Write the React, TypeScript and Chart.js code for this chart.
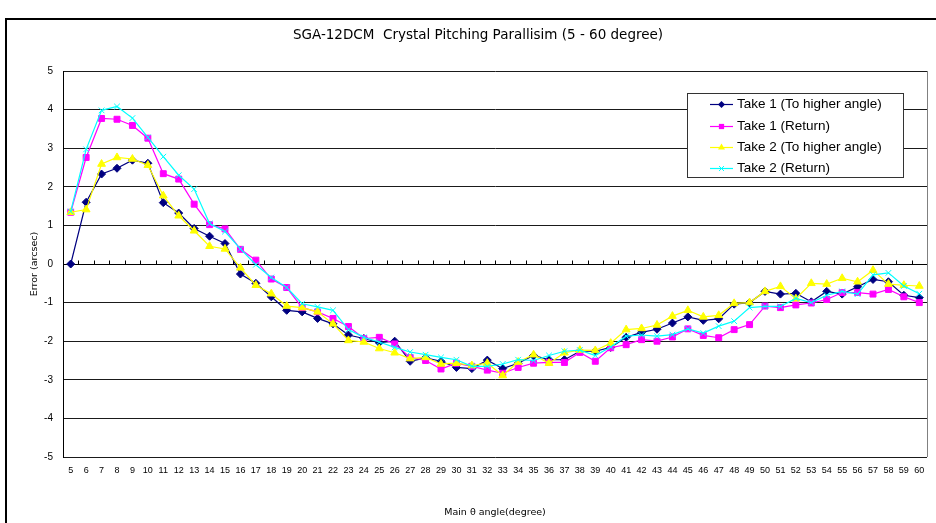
import React, { useEffect, useRef } from "react";
import { Chart, registerables } from "chart.js";

Chart.register(...registerables);

const angles: string[] = [];
for (let a = 5; a <= 60; a++) angles.push(String(a));

const take1Up = [0, 1.60, 2.33, 2.48, 2.69, 2.61, 1.59, 1.32, 0.92, 0.72, 0.53, -0.26, -0.50, -0.85, -1.20, -1.24, -1.41, -1.55, -1.84, -1.93, -2.04, -2.00, -2.52, -2.43, -2.52, -2.68, -2.71, -2.49, -2.71, -2.57, -2.37, -2.48, -2.48, -2.26, -2.26, -2.16, -1.90, -1.77, -1.69, -1.53, -1.37, -1.46, -1.42, -1.04, -1.00, -0.71, -0.78, -0.76, -0.98, -0.71, -0.78, -0.59, -0.40, -0.46, -0.81, -0.87];
const take1Ret = [1.34, 2.76, 3.77, 3.75, 3.59, 3.26, 2.34, 2.20, 1.55, 1.02, 0.91, 0.38, 0.10, -0.39, -0.61, -1.13, -1.24, -1.41, -1.62, -1.93, -1.90, -2.07, -2.42, -2.50, -2.72, -2.57, -2.65, -2.75, -2.83, -2.68, -2.57, -2.55, -2.55, -2.29, -2.52, -2.17, -2.09, -1.96, -2.00, -1.89, -1.68, -1.85, -1.91, -1.70, -1.57, -1.09, -1.13, -1.06, -1.01, -0.92, -0.74, -0.74, -0.78, -0.66, -0.85, -1.00];
const take2Up = [1.34, 1.41, 2.59, 2.76, 2.72, 2.56, 1.77, 1.25, 0.86, 0.46, 0.39, -0.10, -0.55, -0.77, -1.09, -1.13, -1.24, -1.55, -1.98, -2.02, -2.19, -2.30, -2.45, -2.42, -2.59, -2.57, -2.63, -2.57, -2.89, -2.54, -2.35, -2.57, -2.30, -2.23, -2.24, -2.05, -1.70, -1.67, -1.58, -1.35, -1.20, -1.37, -1.33, -1.02, -1.00, -0.71, -0.58, -0.90, -0.50, -0.52, -0.37, -0.46, -0.16, -0.52, -0.55, -0.57];
const take2Ret = [1.36, 2.97, 3.98, 4.08, 3.78, 3.28, 2.78, 2.30, 1.94, 1.05, 0.84, 0.39, -0.02, -0.35, -0.61, -1.03, -1.11, -1.20, -1.70, -1.90, -2.02, -2.16, -2.28, -2.35, -2.42, -2.48, -2.65, -2.65, -2.59, -2.48, -2.50, -2.37, -2.26, -2.23, -2.37, -2.15, -1.87, -1.84, -1.87, -1.83, -1.68, -1.79, -1.61, -1.48, -1.13, -1.10, -1.10, -0.89, -1.00, -0.81, -0.71, -0.78, -0.28, -0.23, -0.57, -0.77];

const seriesNames = [
  "Take 1 (To higher angle)",
  "Take 1 (Return)",
  "Take 2 (To higher angle)",
  "Take 2 (Return)",
];
const seriesColors = ["#000080", "#FF00FF", "#FFFF00", "#00FFFF"];
const seriesStyles = ["rectRot", "rect", "triangle", "crossRot"];
const seriesRadius = [4, 4.2, 4.5, 4];

const chartTitle = "SGA-12DCM  Crystal Pitching Parallisim (5 - 60 degree)";
const xTitle = "Main \u03B8 angle(degree)";
const yTitle = "Error (arcsec)";

const FONT = "'Liberation Sans', Arial, sans-serif";
const WIDE = "'DejaVu Sans', 'Liberation Sans', sans-serif";

function drawMarker(ctx: CanvasRenderingContext2D, style: string, x: number, y: number, r: number, color: string) {
  ctx.save();
  ctx.fillStyle = color;
  ctx.strokeStyle = color;
  ctx.lineWidth = 1;
  ctx.beginPath();
  if (style === "rectRot") {
    ctx.moveTo(x, y - r);
    ctx.lineTo(x + r, y);
    ctx.lineTo(x, y + r);
    ctx.lineTo(x - r, y);
    ctx.closePath();
    ctx.fill();
  } else if (style === "rect") {
    const s = r * Math.SQRT1_2;
    ctx.rect(x - s, y - s, 2 * s, 2 * s);
    ctx.fill();
  } else if (style === "triangle") {
    ctx.moveTo(x, y - r);
    ctx.lineTo(x + r * 0.87, y + r * 0.5);
    ctx.lineTo(x - r * 0.87, y + r * 0.5);
    ctx.closePath();
    ctx.fill();
  } else {
    const s = r * Math.SQRT1_2;
    ctx.moveTo(x - s, y - s);
    ctx.lineTo(x + s, y + s);
    ctx.moveTo(x + s, y - s);
    ctx.lineTo(x - s, y + s);
    ctx.stroke();
  }
  ctx.restore();
}

const decorPlugin = {
  id: "decor",
  beforeDatasetsDraw(chart: any) {
    const { ctx, chartArea } = chart;
    const xs = chart.scales.x;
    const ys = chart.scales.y;
    const y0 = Math.round(ys.getPixelForValue(0)) + 0.5;
    ctx.save();
    ctx.strokeStyle = "#000";
    ctx.lineWidth = 1;
    ctx.beginPath();
    ctx.moveTo(chartArea.left, y0);
    ctx.lineTo(chartArea.right, y0);
    for (let i = 0; i < angles.length; i++) {
      const a = xs.getPixelForValue(i);
      const b = i + 1 < angles.length ? xs.getPixelForValue(i + 1) : chartArea.right + (chartArea.right - a);
      const bx = Math.round((a + b) / 2) + 0.5;
      if (bx > chartArea.right) continue;
      ctx.moveTo(bx, y0);
      ctx.lineTo(bx, y0 - 4);
    }
    ctx.stroke();
    ctx.strokeStyle = "#808080";
    ctx.beginPath();
    const rx = Math.round(chartArea.right) + 0.5;
    ctx.moveTo(rx, chartArea.top);
    ctx.lineTo(rx, chartArea.bottom);
    ctx.stroke();
    ctx.restore();
  },
  afterDatasetsDraw(chart: any) {
    const { ctx } = chart;
    const lx = 687, ly = 93, lw = 216, lh = 84;
    ctx.save();
    ctx.fillStyle = "#fff";
    ctx.fillRect(lx, ly, lw, lh);
    ctx.strokeStyle = "#333";
    ctx.lineWidth = 1;
    ctx.strokeRect(lx + 0.5, ly + 0.5, lw, lh);
    ctx.font = `13.5px ${FONT}`;
    ctx.textBaseline = "middle";
    ctx.textAlign = "left";
    const rows = [104, 125.5, 147, 168];
    for (let i = 0; i < seriesNames.length; i++) {
      const y = rows[i];
      ctx.strokeStyle = seriesColors[i];
      ctx.lineWidth = 1.2;
      ctx.beginPath();
      ctx.moveTo(710, Math.round(y) + 0.5);
      ctx.lineTo(733, Math.round(y) + 0.5);
      ctx.stroke();
      drawMarker(ctx, seriesStyles[i], 721.5, Math.round(y) + 0.5, seriesRadius[i] - 0.5, seriesColors[i]);
      ctx.fillStyle = "#000";
      ctx.fillText(seriesNames[i], 737, y + 0.5);
    }
    ctx.restore();
  },
};

export default function App() {
  const ref = useRef<HTMLCanvasElement | null>(null);
  useEffect(() => {
    if (!ref.current) return;
    const chart = new Chart(ref.current, {
      type: "line",
      data: {
        labels: angles,
        datasets: [take1Up, take1Ret, take2Up, take2Ret].map((d, i) => ({
          label: seriesNames[i],
          data: d,
          borderColor: seriesColors[i],
          backgroundColor: seriesColors[i],
          pointBackgroundColor: seriesColors[i],
          pointBorderColor: seriesColors[i],
          pointStyle: seriesStyles[i] as any,
          pointRadius: seriesRadius[i],
          pointBorderWidth: 1,
          borderWidth: 1.2,
          tension: 0,
          fill: false,
          order: 3 - i,
        })),
      },
      options: {
        responsive: false,
        animation: false,
        events: [],
        layout: { padding: { top: 0, right: 9, left: 29, bottom: 0 } },
        plugins: {
          legend: { display: false },
          tooltip: { enabled: false },
          title: {
            display: true,
            text: chartTitle,
            color: "#000",
            font: { family: WIDE, size: 13.5, weight: "normal" },
            padding: { top: 27.5, bottom: 27.3 },
          },
        },
        scales: {
          x: {
            type: "category",
            offset: true,
            grid: { display: false, drawTicks: false },
            border: { display: false },
            ticks: {
              color: "#000",
              font: { family: FONT, size: 9 },
              padding: 8,
              maxRotation: 0,
              autoSkip: false,
            },
            title: {
              display: true,
              text: xTitle,
              color: "#000",
              font: { family: WIDE, size: 9.5 },
              padding: { top: 20, bottom: 5 },
            },
            afterFit: (s: any) => {
              s.height = 66;
            },
          },
          y: {
            min: -5,
            max: 5,
            ticks: {
              stepSize: 1,
              color: "#000",
              font: { family: FONT, size: 10 },
              padding: 10,
            },
            grid: { color: "#1a1a1a", lineWidth: 1, drawTicks: false },
            border: { display: true, color: "#000", width: 1 },
            title: {
              display: true,
              text: yTitle,
              color: "#000",
              font: { family: WIDE, size: 9.5 },
              padding: { top: 0, bottom: 0 },
            },
            afterFit: (s: any) => {
              s.width = 34;
            },
          },
        },
      },
      plugins: [decorPlugin],
    });
    return () => chart.destroy();
  }, []);

  return (
    <div
      style={{
        position: "fixed",
        left: 0,
        top: 0,
        width: 936,
        height: 523,
        overflow: "hidden",
        background: "#fff",
      }}
    >
      <div
        style={{
          position: "absolute",
          left: 5,
          top: 18,
          width: 1000,
          height: 600,
          border: "2px solid #000",
          boxSizing: "border-box",
        }}
      />
      <canvas
        ref={ref}
        width={936}
        height={523}
        style={{ position: "absolute", left: 0, top: 0, width: 936, height: 523, display: "block" }}
      />
    </div>
  );
}
